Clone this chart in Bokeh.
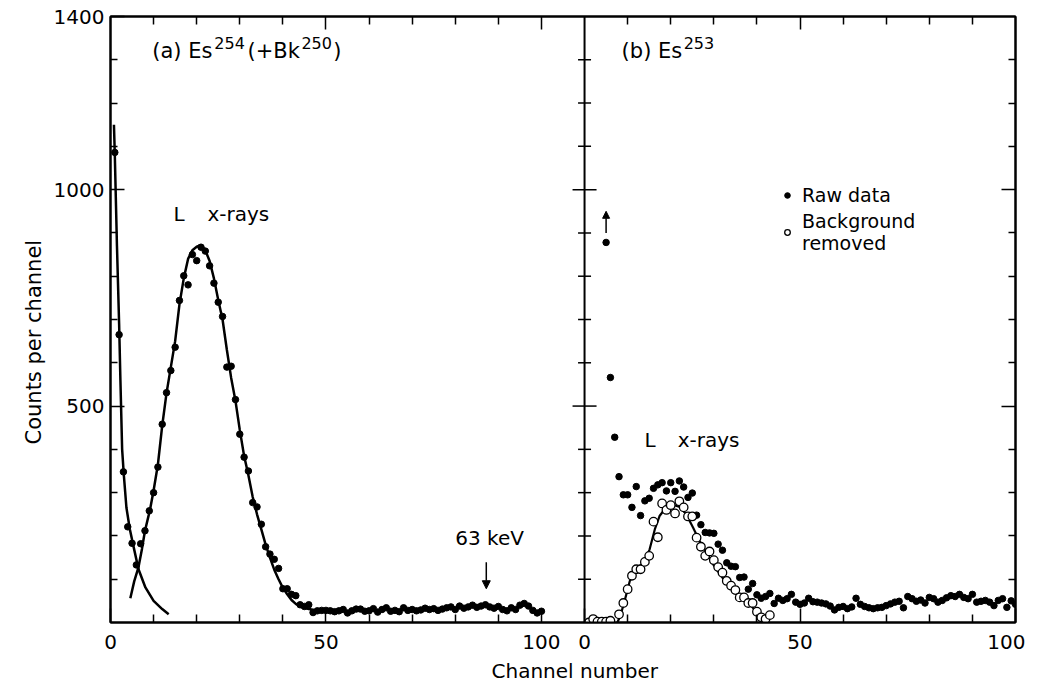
from bokeh.plotting import figure
from bokeh.models import (Range1d, LinearAxis, FixedTicker, Label, Arrow, NormalHead,
                          Span, Legend, LegendItem, Title)
from bokeh.embed import file_html
from bokeh.resources import INLINE

FONT = "DejaVu Sans"

# ---------------- panel (a) Es254 (+Bk250) ----------------
a_raw_counts = [1086, 665, 348, 221, 183, 133, 182, 212, 258, 300,
                359, 458, 531, 582, 636, 744, 801, 780, 850, 836,
                867, 858, 824, 784, 740, 707, 590, 592, 515, 435,
                382, 350, 277, 267, 227, 175, 158, 146, 125, 78,
                78, 65, 62, 41, 37, 41, 23, 27, 28, 28,
                27, 25, 27, 30, 22, 27, 31, 31, 26, 27,
                32, 24, 30, 34, 26, 28, 25, 34, 28, 30,
                27, 29, 33, 30, 32, 28, 31, 34, 36, 30,
                38, 33, 36, 40, 35, 38, 41, 36, 33, 37,
                30, 27, 34, 30, 40, 44, 38, 28, 22, 26]
a_raw_channel = list(range(1, 1 + len(a_raw_counts)))

# fitted curves
a_fit1_channel = [0.8, 1.0, 1.5, 2.0, 2.3, 2.7, 3.1, 3.7, 4.5, 5.4, 6.5, 8.1, 10.0, 12.0, 13.5]
a_fit1_counts = [1150, 1080, 870, 690, 560, 400, 340, 265, 215, 173, 123, 81, 50, 31, 19]

a_fit2_channel = [4.6, 5.5, 6.5, 7.3, 8.0, 9.2, 10.0, 11.0, 12.0, 13.0, 14.0, 15.0, 16.0,
                  17.0, 18.0, 19.0, 20.0, 21.0, 22.0, 23.0, 24.0, 25.0, 26.0, 27.0, 28.0,
                  29.0, 30.0, 31.0, 32.0, 33.0, 34.0, 35.0, 36.0, 37.0, 38.0, 39.0, 40.0,
                  41.0, 42.0, 43.0, 44.0, 46.0, 48.0]
a_fit2_counts = [56, 95, 128, 170, 212, 262, 305, 365, 455, 530, 590, 650, 735,
                 795, 840, 860, 868, 872, 860, 835, 795, 745, 700, 630, 565,
                 512, 445, 385, 340, 290, 250, 215, 180, 150, 122, 100, 80,
                 65, 52, 43, 37, 31, 28]

# ---------------- panel (b) Es253 ----------------
b_raw_counts = [878, 566, 428, 337, 295, 295, 266, 314, 247, 281,
                287, 310, 318, 323, 304, 323, 303, 327, 313, 289,
                299, 248, 226, 208, 207, 206, 181, 167, 138, 130,
                129, 104, 105, 77, 90, 64, 56, 60, 67, 44,
                56, 51, 55, 65, 47, 42, 45, 56, 48, 47,
                45, 43, 38, 29, 35, 37, 32, 36, 56, 42,
                37, 34, 32, 34, 35, 39, 43, 47, 49, 34,
                60, 55, 49, 52, 45, 58, 55, 47, 51, 57,
                62, 60, 65, 58, 55, 65, 47, 49, 51, 47,
                39, 51, 55, 35, 50, 42]
b_raw_channel = list(range(5, 5 + len(b_raw_counts)))

b_bg_channel = [1, 2, 3, 4, 5, 6, 8, 9, 10, 11, 12, 13, 14, 15, 16, 17, 18, 19, 20,
                21, 22, 23, 24, 25, 26, 27, 28, 29, 30, 31, 32, 33, 34, 35, 36, 37,
                38, 39, 40, 41, 42, 43]
b_bg_counts = [0, 8, 2, 2, 2, 4, 19, 45, 77, 108, 123, 123, 140, 154, 233, 197, 275, 260, 271,
               252, 280, 266, 245, 245, 196, 175, 154, 164, 144, 128, 115, 96, 85, 75, 58, 58,
               45, 45, 25, 12, 8, 17]

b_fit_channel = [7.6, 8.3, 9.3, 10.5, 12.0, 14.0, 15.1, 16.3, 17.4, 19.0, 20.5, 22.1,
                 23.6, 25.2, 26.7, 28.3, 29.8, 31.4, 33.0, 34.5, 36.4, 38.4, 40.3, 41.1]
b_fit_counts = [0, 15, 50, 96, 123, 142, 169, 215, 246, 267, 272, 267,
                250, 219, 188, 162, 135, 112, 90, 73, 58, 42, 19, 2]

# ---------------- axes / ticks ----------------
PANEL_A_END = 110          # panel (a) spans 0..110 channels, panel (b) follows
X_MAJOR = [0, 50, 100, 110, 160, 210]
X_LABELS = {0: "0", 50: "50", 100: "100", 110: "0", 160: "50", 210: "100"}
X_MINOR = [10, 20, 30, 40, 60, 70, 80, 90, 120, 130, 140, 150, 170, 180, 190, 200]
TOP_MAJOR = [50, 100, 160]
Y_MAJOR = [500, 1000, 1400]
Y_MINOR = [100, 200, 300, 400, 600, 700, 800, 900, 1100, 1200, 1300]
DIV_SHORT = [100, 200, 300, 400, 600, 700, 800, 900, 1100, 1200, 1300]
DIV_LONG = [500, 1000]

p = figure(frame_width=905, frame_height=606,
           x_range=Range1d(0, 210), y_range=Range1d(0, 1400),
           output_backend="svg", toolbar_location=None,
           min_border_left=110, min_border_top=16, min_border_bottom=0, min_border_right=10)
p.extra_x_ranges = {"b": Range1d(-PANEL_A_END, 100)}
p.grid.visible = False
p.outline_line_color = "black"
p.outline_line_width = 2
p.background_fill_color = "white"
p.border_fill_color = "white"


def style_axis(ax, major, minor, labels, tin, tmin, show_labels=True):
    ax.ticker = FixedTicker(ticks=major, minor_ticks=minor)
    ax.major_tick_in = tin
    ax.major_tick_out = 0
    ax.minor_tick_in = tmin
    ax.minor_tick_out = 0
    ax.axis_line_width = 2
    ax.axis_line_color = "black"
    ax.major_tick_line_width = 1.5
    ax.minor_tick_line_width = 1.5
    ax.major_tick_line_color = "black"
    ax.minor_tick_line_color = "black"
    ax.major_label_overrides = labels
    ax.major_label_text_font = FONT
    ax.major_label_text_font_size = "20px"
    ax.major_label_text_color = "black"
    ax.major_label_standoff = 8 if show_labels else 0


style_axis(p.xaxis[0], X_MAJOR, X_MINOR, X_LABELS, 14, 8)
p.xaxis[0].major_label_standoff = 12
style_axis(p.yaxis[0], Y_MAJOR, Y_MINOR, {}, 14, 7)
p.yaxis[0].major_label_standoff = 6

top = LinearAxis()
style_axis(top, TOP_MAJOR, X_MINOR, {t: "" for t in TOP_MAJOR}, 13, 8, show_labels=False)
p.add_layout(top, "above")
right = LinearAxis()
style_axis(right, DIV_LONG, DIV_SHORT, {t: "" for t in DIV_LONG}, 14, 7, show_labels=False)
p.add_layout(right, "right")

# axis titles
p.add_layout(Title(text="Counts per channel", align="left", offset=178, text_font=FONT,
                   text_font_size="21px", text_font_style="normal", text_color="black"), "left")
p.add_layout(Title(text="Channel number", align="left", offset=381, text_font=FONT,
                   text_font_size="20px", text_font_style="normal", text_color="black"), "below")

# divider between the two panels, with ticks crossing it
p.add_layout(Span(location=PANEL_A_END, dimension="height", line_color="black", line_width=2))
p.scatter(x=[PANEL_A_END] * len(DIV_SHORT), y=DIV_SHORT, marker="dash", size=13,
          line_color="black", line_width=1.5)
p.scatter(x=[PANEL_A_END] * len(DIV_LONG), y=DIV_LONG, marker="dash", size=24,
          line_color="black", line_width=1.5)

# ---------------- panel (a) ----------------
p.line(a_fit1_channel, a_fit1_counts, line_color="black", line_width=2.5)
p.line(a_fit2_channel, a_fit2_counts, line_color="black", line_width=2.5)
p.scatter(a_raw_channel, a_raw_counts, size=6.5, color="black")

# ---------------- panel (b) ----------------
p.line(b_fit_channel, b_fit_counts, line_color="black", line_width=2.2, x_range_name="b")
rb_raw = p.scatter(b_raw_channel, b_raw_counts, size=6.5, color="black", x_range_name="b")
rb_bg = p.scatter(b_bg_channel, b_bg_counts, size=8.5, marker="circle", fill_color="white",
                  line_color="black", line_width=1.3, x_range_name="b")

legend = Legend(items=[LegendItem(label="Raw data", renderers=[rb_raw]),
                       LegendItem(label="Background\nremoved", renderers=[rb_bg])],
                location=(670, 368), border_line_alpha=0, background_fill_alpha=0,
                label_text_font=FONT, label_text_font_size="19px", label_text_color="black",
                glyph_width=14, glyph_height=14, label_standoff=8, padding=0, spacing=4,
                margin=0)
p.add_layout(legend)

# ---------------- text ----------------
def txt(x, y, s, size="21px", rng="default", **kw):
    p.add_layout(Label(x=x, y=y, text=s, text_font=FONT, text_font_size=size,
                       text_color="black", x_range_name=rng, **kw))

txt(9.7, 1293, "(a) Es")
txt(24.1, 1326, "254", size="16px")
txt(31.8, 1293, "(+Bk")
txt(44.3, 1326, "250", size="16px")
txt(51.7, 1293, ")")
txt(14.6, 917, "L", size="20px")
txt(22.5, 917, "x-rays", size="20px")
txt(80.0, 168, "63 keV", size="20px")

txt(8.6, 1293, "(b) Es", rng="b")
txt(23.0, 1326, "253", size="16px", rng="b")
txt(13.9, 393, "L", size="20px", rng="b")
txt(21.6, 393, "x-rays", size="20px", rng="b")

p.add_layout(Arrow(end=NormalHead(size=8, fill_color="black", line_color="black"),
                   x_start=87.2, y_start=139, x_end=87.2, y_end=78,
                   line_color="black", line_width=1.5))
p.add_layout(Arrow(end=NormalHead(size=7, fill_color="black", line_color="black"),
                   x_start=5.0, y_start=900, x_end=5.0, y_end=950,
                   line_color="black", line_width=1.5, x_range_name="b"))

open("out.html", "w").write(file_html(p, INLINE))
